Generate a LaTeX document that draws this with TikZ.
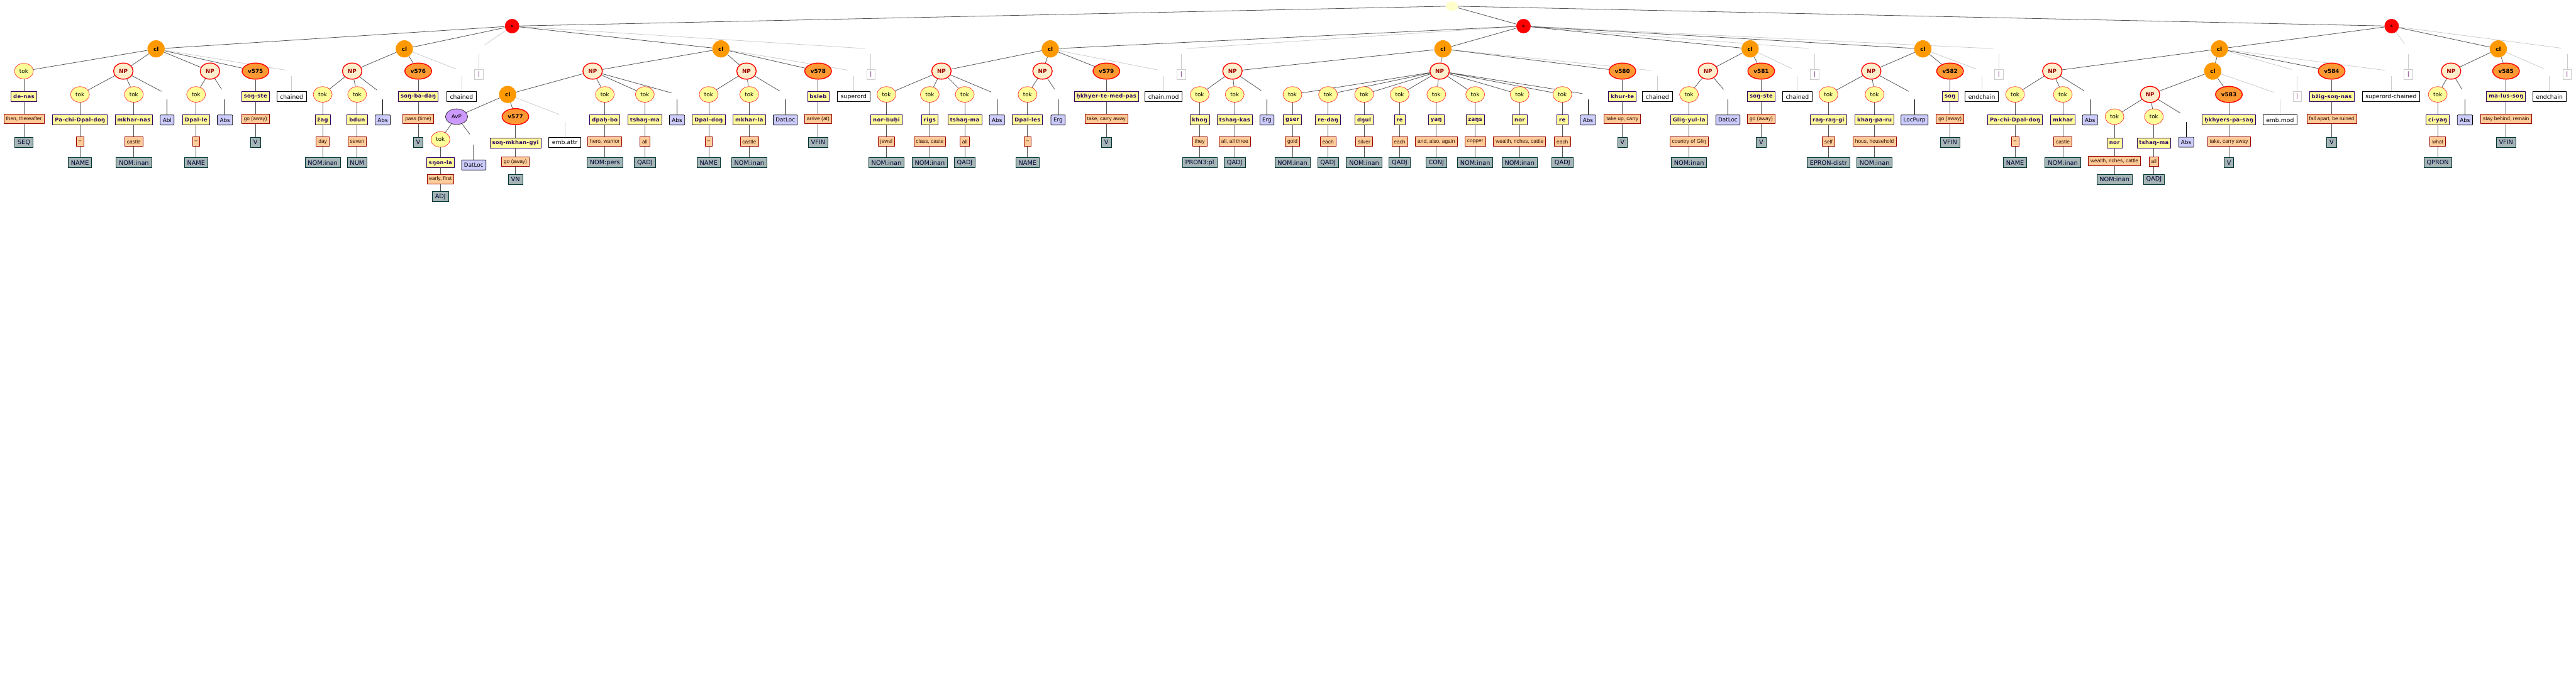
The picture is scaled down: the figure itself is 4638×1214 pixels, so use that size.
\documentclass[tikz,border=0pt]{standalone}
\usepackage{fontspec}
\setmainfont{DejaVu Sans}
\newfontfamily\glossfont{Liberation Sans}
\newfontfamily\wordfont[LetterSpace=4]{DejaVu Sans}
\usetikzlibrary{shapes.geometric,backgrounds}
\definecolor{tokfill}{RGB}{255,255,153}
\definecolor{tokline}{RGB}{255,51,51}
\definecolor{npfill}{RGB}{255,238,204}
\definecolor{npline}{RGB}{255,0,0}
\definecolor{nptext}{RGB}{153,0,0}
\definecolor{clfill}{RGB}{255,153,0}
\definecolor{sfill}{RGB}{255,0,0}
\definecolor{rootfill}{RGB}{255,255,204}
\definecolor{vfill}{RGB}{255,153,51}
\definecolor{avpfill}{RGB}{204,153,255}
\definecolor{wordfill}{RGB}{255,255,153}
\definecolor{wordline}{RGB}{51,0,102}
\definecolor{glossfill}{RGB}{255,204,153}
\definecolor{glossline}{RGB}{153,0,0}
\definecolor{glosstext}{RGB}{51,17,0}
\definecolor{posfill}{RGB}{165,181,181}
\definecolor{posline}{RGB}{0,51,51}
\definecolor{postext}{RGB}{0,0,51}
\definecolor{casefill}{RGB}{204,204,255}
\definecolor{linkgray}{RGB}{85,85,85}
\definecolor{faintgray}{RGB}{204,204,204}
\definecolor{barpurple}{RGB}{102,0,102}

% word / gloss / pos column under a head node
\newcommand{\lexchain}[8]{%
  \node[wordbox] (#1w) at (#2,#3) {#6};
  \node[glossbox] (#1g) at (#2,#4) {#7};
  \node[posbox] (#1p) at (#2,#5) {#8};
  \draw[link] (#1) -- (#1w) -- (#1g) -- (#1p);}
% hanging boxes
\newcommand{\hangcase}[4]{%
  \node[ph] (#1) at (#2,#3) {};
  \node[casebox] (#1b) at (#2,#3+46) {#4};
  \draw[stub] (#1.south) -- (#1b);}
\newcommand{\hangfunc}[5]{%
  \node[ph] (#1) at (#2,#3) {};
  \node[#4] (#1b) at (#2,#3+46) {#5};
  \draw[faint] (#1.south) -- (#1b);}

\begin{document}
\begin{tikzpicture}[x=1pt,y=-1pt,
  tok/.style={ellipse,draw=tokline,fill=tokfill,line width=0.8pt,minimum width=34pt,minimum height=28pt,inner sep=0pt,font=\fontsize{10}{12}\selectfont},
  np/.style={ellipse,draw=npline,fill=npfill,line width=1.6pt,minimum width=35pt,minimum height=29pt,inner sep=0pt,text=nptext,font=\bfseries\fontsize{10}{12}\selectfont},
  vn/.style={np,fill=vfill,minimum width=48pt,text=black},
  avp/.style={ellipse,draw=black!80,fill=avpfill,line width=0.9pt,minimum width=40pt,minimum height=28pt,inner sep=0pt,font=\fontsize{10}{12}\selectfont},
  cl/.style={circle,fill=clfill,minimum size=31pt,inner sep=0pt,font=\bfseries\fontsize{10}{12}\selectfont},
  sn/.style={circle,fill=sfill,minimum size=26pt,inner sep=0pt,font=\bfseries\fontsize{7}{8}\selectfont},
  rootn/.style={ellipse,fill=rootfill,minimum width=22pt,minimum height=17pt,inner sep=0pt,font=\fontsize{7}{8}\selectfont},
  wordbox/.style={draw=wordline,fill=wordfill,text=wordline,line width=0.8pt,minimum height=18pt,inner xsep=4pt,inner ysep=0pt,font=\wordfont\bfseries\fontsize{9.5}{11}\selectfont},
  glossbox/.style={draw=glossline,fill=glossfill,text=glosstext,line width=0.8pt,minimum height=17pt,inner xsep=4pt,inner ysep=0pt,font=\glossfont\fontsize{9.5}{11}\selectfont},
  posbox/.style={draw=posline,fill=posfill,text=postext,line width=0.8pt,minimum height=18pt,inner xsep=5pt,inner ysep=0pt,font=\fontsize{11}{13}\selectfont},
  casebox/.style={draw=black,fill=casefill,line width=0.8pt,minimum height=18pt,inner xsep=4.5pt,inner ysep=0pt,rounded corners=1pt,font=\fontsize{10}{12}\selectfont},
  funcbox/.style={draw=black,fill=white,line width=0.8pt,minimum height=18pt,inner xsep=6pt,inner ysep=0pt,font=\fontsize{10.5}{12}\selectfont},
  barbox/.style={draw=faintgray,fill=white,line width=0.8pt,minimum width=15pt,minimum height=18pt,inner sep=0pt,text=barpurple,font=\fontsize{10}{12}\selectfont},
  ph/.style={minimum width=20pt,minimum height=18pt,inner sep=0pt},
  link/.style={draw=linkgray,line width=0.9pt},
  faint/.style={draw=faintgray,line width=0.9pt},
  stub/.style={draw=black,line width=0.9pt}]
  \useasboundingbox (0,0) rectangle (4638,1214);

  % sentence and clause nodes
  \node[rootn] (root) at (2614,11) {.};
  \node[sn] (s1) at (922,47) {s};
  \node[sn] (s2) at (2743,47) {s};
  \node[sn] (s3) at (4306,47) {s};
  \node[cl] (cA) at (281,88) {cl};
  \node[cl] (cB) at (728,88) {cl};
  \node[cl] (cC) at (1298,88) {cl};
  \node[cl] (cD) at (1891,88) {cl};
  \node[cl] (cF) at (2598,88) {cl};
  \node[cl] (cG) at (3151,88) {cl};
  \node[cl] (cH) at (3462,88) {cl};
  \node[cl] (cI) at (3996,88) {cl};
  \node[cl] (cJ) at (4498,88) {cl};
  \node[cl] (cE) at (914,170) {cl};
  \node[cl] (cK) at (3984,128) {cl};

  % phrases
  \node[np] (npA1) at (222,128) {NP};
  \node[np] (npA2) at (378,128) {NP};
  \node[np] (npB) at (634,128) {NP};
  \node[np] (npC1) at (1067,128) {NP};
  \node[np] (npC2) at (1344,128) {NP};
  \node[np] (npD1) at (1695,128) {NP};
  \node[np] (npD2) at (1877,128) {NP};
  \node[np] (npF1) at (2219,128) {NP};
  \node[np] (npF2) at (2592,128) {NP};
  \node[np] (npG) at (3075,128) {NP};
  \node[np] (npH) at (3369,128) {NP};
  \node[np] (npI) at (3695,128) {NP};
  \node[np] (npK) at (3871,170) {NP};
  \node[np] (npJ) at (4413,128) {NP};
  \node[avp] (avE) at (822,210) {AvP};

  % verbs
  \node[vn] (v575) at (460,128) {v575};
  \lexchain{v575}{460}{174}{214}{256}{soŋ-ste}{go (away)}{V}
  \node[vn] (v576) at (753,128) {v576};
  \lexchain{v576}{753}{174}{214}{256}{soŋ-ba-daŋ}{pass (time)}{V}
  \node[vn] (v577) at (928,210) {v577};
  \lexchain{v577}{928}{257}{291}{323}{soŋ-mkhan-gyi}{go (away)}{VN}
  \node[vn] (v578) at (1473,128) {v578};
  \lexchain{v578}{1473}{174}{214}{256}{bsleb}{arrive (at)}{VFIN}
  \node[vn] (v579) at (1992,128) {v579};
  \lexchain{v579}{1992}{174}{214}{256}{ḥkhyer-te-med-pas}{take, carry away}{V}
  \node[vn] (v580) at (2921,128) {v580};
  \lexchain{v580}{2921}{174}{214}{256}{khur-te}{take up, carry}{V}
  \node[vn] (v581) at (3171,128) {v581};
  \lexchain{v581}{3171}{174}{214}{256}{soŋ-ste}{go (away)}{V}
  \node[vn] (v582) at (3511,128) {v582};
  \lexchain{v582}{3511}{174}{214}{256}{soŋ}{go (away)}{VFIN}
  \node[vn] (v583) at (4013,170) {v583};
  \lexchain{v583}{4013}{216}{255}{293}{ḥkhyers-pa-saŋ}{take, carry away}{V}
  \node[vn] (v584) at (4198,128) {v584};
  \lexchain{v584}{4198}{174}{214}{256}{bžig-soŋ-nas}{fall apart, be ruined}{V}
  \node[vn] (v585) at (4512,128) {v585};
  \lexchain{v585}{4512}{174}{214}{256}{ma-lus-soŋ}{stay behind, remain}{VFIN}

  % tokens
  \node[tok] (t1) at (43,128) {tok};
  \lexchain{t1}{43}{174}{214}{256}{de-nas}{then, thereafter}{SEQ}
  \node[tok] (t2) at (144,170) {tok};
  \lexchain{t2}{144}{216}{255}{293}{Pa-chi-Dpal-doŋ}{–}{NAME}
  \node[tok] (t3) at (241,170) {tok};
  \lexchain{t3}{241}{216}{255}{293}{mkhar-nas}{castle}{NOM:inan}
  \node[tok] (t4) at (353,170) {tok};
  \lexchain{t4}{353}{216}{255}{293}{Dpal-le}{–}{NAME}
  \node[tok] (t5) at (581,170) {tok};
  \lexchain{t5}{581}{216}{255}{293}{žag}{day}{NOM:inan}
  \node[tok] (t6) at (643,170) {tok};
  \lexchain{t6}{643}{216}{255}{293}{bdun}{seven}{NUM}
  \node[tok] (t7) at (793,251) {tok};
  \lexchain{t7}{793}{293}{322}{354}{sŋon-la}{early, first}{ADJ}
  \node[tok] (t8) at (1089,170) {tok};
  \lexchain{t8}{1089}{216}{255}{293}{dpaḥ-bo}{hero, warrior}{NOM:pers}
  \node[tok] (t9) at (1161,170) {tok};
  \lexchain{t9}{1161}{216}{255}{293}{tshaŋ-ma}{all}{QADJ}
  \node[tok] (t10) at (1276,170) {tok};
  \lexchain{t10}{1276}{216}{255}{293}{Dpal-doŋ}{–}{NAME}
  \node[tok] (t11) at (1349,170) {tok};
  \lexchain{t11}{1349}{216}{255}{293}{mkhar-la}{castle}{NOM:inan}
  \node[tok] (t12) at (1596,170) {tok};
  \lexchain{t12}{1596}{216}{255}{293}{nor-buḥi}{jewel}{NOM:inan}
  \node[tok] (t13) at (1674,170) {tok};
  \lexchain{t13}{1674}{216}{255}{293}{rigs}{class, caste}{NOM:inan}
  \node[tok] (t14) at (1737,170) {tok};
  \lexchain{t14}{1737}{216}{255}{293}{tshaŋ-ma}{all}{QADJ}
  \node[tok] (t15) at (1850,170) {tok};
  \lexchain{t15}{1850}{216}{255}{293}{Dpal-les}{–}{NAME}
  \node[tok] (t16) at (2160,170) {tok};
  \lexchain{t16}{2160}{216}{255}{293}{khoŋ}{they}{PRON3:pl}
  \node[tok] (t17) at (2223,170) {tok};
  \lexchain{t17}{2223}{216}{255}{293}{tshaŋ-kas}{all, all three}{QADJ}
  \node[tok] (t18) at (2327,170) {tok};
  \lexchain{t18}{2327}{216}{255}{293}{gser}{gold}{NOM:inan}
  \node[tok] (t19) at (2391,170) {tok};
  \lexchain{t19}{2391}{216}{255}{293}{re-daŋ}{each}{QADJ}
  \node[tok] (t20) at (2456,170) {tok};
  \lexchain{t20}{2456}{216}{255}{293}{dŋul}{silver}{NOM:inan}
  \node[tok] (t21) at (2520,170) {tok};
  \lexchain{t21}{2520}{216}{255}{293}{re}{each}{QADJ}
  \node[tok] (t22) at (2586,170) {tok};
  \lexchain{t22}{2586}{216}{255}{293}{yaŋ}{and, also, again}{CONJ}
  \node[tok] (t23) at (2656,170) {tok};
  \lexchain{t23}{2656}{216}{255}{293}{zaŋs}{copper}{NOM:inan}
  \node[tok] (t24) at (2736,170) {tok};
  \lexchain{t24}{2736}{216}{255}{293}{nor}{wealth, riches, cattle}{NOM:inan}
  \node[tok] (t25) at (2813,170) {tok};
  \lexchain{t25}{2813}{216}{255}{293}{re}{each}{QADJ}
  \node[tok] (t26) at (3041,170) {tok};
  \lexchain{t26}{3041}{216}{255}{293}{Gliŋ-yul-la}{country of Gliŋ}{NOM:inan}
  \node[tok] (t27) at (3292,170) {tok};
  \lexchain{t27}{3292}{216}{255}{293}{raŋ-raŋ-gi}{self}{EPRON-distr}
  \node[tok] (t28) at (3375,170) {tok};
  \lexchain{t28}{3375}{216}{255}{293}{khaŋ-pa-ru}{hous, household}{NOM:inan}
  \node[tok] (t29) at (3628,170) {tok};
  \lexchain{t29}{3628}{216}{255}{293}{Pa-chi-Dpal-doŋ}{–}{NAME}
  \node[tok] (t30) at (3714,170) {tok};
  \lexchain{t30}{3714}{216}{255}{293}{mkhar}{castle}{NOM:inan}
  \node[tok] (t31) at (3807,210) {tok};
  \lexchain{t31}{3807}{257}{290}{323}{nor}{wealth, riches, cattle}{NOM:inan}
  \node[tok] (t32) at (3878,210) {tok};
  \lexchain{t32}{3878}{257}{291}{323}{tshaŋ-ma}{all}{QADJ}
  \node[tok] (t33) at (4389,170) {tok};
  \lexchain{t33}{4389}{216}{255}{293}{ci-yaŋ}{what}{QPRON}

  % case markers
  \hangcase{kA1}{301}{170}{Abl}
  \hangcase{kA2}{405}{170}{Abs}
  \hangcase{kB}{689}{170}{Abs}
  \hangcase{kC1}{1219}{170}{Abs}
  \hangcase{kE}{853}{251}{DatLoc}
  \hangcase{kC2}{1414}{170}{DatLoc}
  \hangcase{kD1}{1795}{170}{Abs}
  \hangcase{kD2}{1905}{170}{Erg}
  \hangcase{kF1}{2281}{170}{Erg}
  \hangcase{kF2}{2859}{170}{Abs}
  \hangcase{kG}{3111}{170}{DatLoc}
  \hangcase{kH}{3447}{170}{LocPurp}
  \hangcase{kI}{3763}{170}{Abs}
  \hangcase{kK}{3936}{210}{Abs}
  \hangcase{kJ}{4438}{170}{Abs}

  % clause functions and separators
  \hangfunc{fA}{525}{128}{funcbox}{chained}
  \hangfunc{fB}{831}{128}{funcbox}{chained}
  \hangfunc{fE}{1017}{210}{funcbox}{emb.attr}
  \hangfunc{fC}{1537}{128}{funcbox}{superord}
  \hangfunc{fD}{2095}{128}{funcbox}{chain.mod}
  \hangfunc{fF}{2984}{128}{funcbox}{chained}
  \hangfunc{fG}{3236}{128}{funcbox}{chained}
  \hangfunc{fH}{3568}{128}{funcbox}{endchain}
  \hangfunc{fK}{4105}{170}{funcbox}{emb.mod}
  \hangfunc{fI}{4305}{128}{funcbox}{superord-chained}
  \hangfunc{fJ}{4590}{128}{funcbox}{endchain}
  \hangfunc{b1}{862}{88}{barbox}{|}
  \hangfunc{b2}{1568}{88}{barbox}{|}
  \hangfunc{b3}{2127}{88}{barbox}{|}
  \hangfunc{b4}{3267}{88}{barbox}{|}
  \hangfunc{b5}{3599}{88}{barbox}{|}
  \hangfunc{b6}{4336}{88}{barbox}{|}
  \hangfunc{b7}{4622}{88}{barbox}{|}
  \hangfunc{b8}{4136}{128}{barbox}{|}

  \begin{scope}[on background layer]
    \draw[faint] (s1) -- (b1) (s1) -- (b2) (s2) -- (b3) (s2) -- (b4) (s2) -- (b5)
      (s3) -- (b6) (s3) -- (b7) (cI) -- (b8);
    \draw[faint] (cA) -- (fA) (cB) -- (fB) (cE) -- (fE) (cC) -- (fC) (cD) -- (fD)
      (cF) -- (fF) (cG) -- (fG) (cH) -- (fH) (cK) -- (fK) (cI) -- (fI) (cJ) -- (fJ);
    \draw[link] (root) -- (s1) (root) -- (s2) (root) -- (s3);
    \draw[link] (s1) -- (cA) (s1) -- (cB) (s1) -- (cC);
    \draw[link] (s2) -- (cD) (s2) -- (cF) (s2) -- (cG) (s2) -- (cH);
    \draw[link] (s3) -- (cI) (s3) -- (cJ);
    \draw[link] (cA) -- (t1) (cA) -- (npA1) (cA) -- (npA2) (cA) -- (v575);
    \draw[link] (npA1) -- (t2) (npA1) -- (t3) (npA1) -- (kA1) (npA2) -- (t4) (npA2) -- (kA2);
    \draw[link] (cB) -- (npB) (cB) -- (v576) (npB) -- (t5) (npB) -- (t6) (npB) -- (kB);
    \draw[link] (cC) -- (npC1) (cC) -- (npC2) (cC) -- (v578);
    \draw[link] (npC1) -- (cE) (npC1) -- (t8) (npC1) -- (t9) (npC1) -- (kC1);
    \draw[link] (cE) -- (avE) (cE) -- (v577) (avE) -- (t7) (avE) -- (kE);
    \draw[link] (npC2) -- (t10) (npC2) -- (t11) (npC2) -- (kC2);
    \draw[link] (cD) -- (npD1) (cD) -- (npD2) (cD) -- (v579);
    \draw[link] (npD1) -- (t12) (npD1) -- (t13) (npD1) -- (t14) (npD1) -- (kD1)
      (npD2) -- (t15) (npD2) -- (kD2);
    \draw[link] (cF) -- (npF1) (cF) -- (npF2) (cF) -- (v580);
    \draw[link] (npF1) -- (t16) (npF1) -- (t17) (npF1) -- (kF1);
    \draw[link] (npF2) -- (t18) (npF2) -- (t19) (npF2) -- (t20) (npF2) -- (t21)
      (npF2) -- (t22) (npF2) -- (t23) (npF2) -- (t24) (npF2) -- (t25) (npF2) -- (kF2);
    \draw[link] (cG) -- (npG) (cG) -- (v581) (npG) -- (t26) (npG) -- (kG);
    \draw[link] (cH) -- (npH) (cH) -- (v582) (npH) -- (t27) (npH) -- (t28) (npH) -- (kH);
    \draw[link] (cI) -- (npI) (cI) -- (cK) (cI) -- (v584);
    \draw[link] (npI) -- (t29) (npI) -- (t30) (npI) -- (kI);
    \draw[link] (cK) -- (npK) (cK) -- (v583) (npK) -- (t31) (npK) -- (t32) (npK) -- (kK);
    \draw[link] (cJ) -- (npJ) (cJ) -- (v585) (npJ) -- (t33) (npJ) -- (kJ);
  \end{scope}
\end{tikzpicture}
\end{document}
